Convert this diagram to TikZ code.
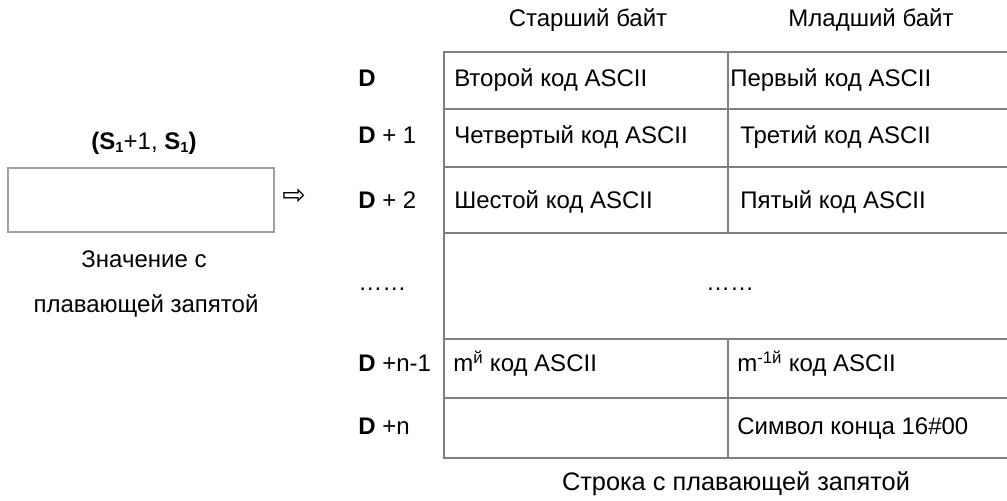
\documentclass[tikz,border=0pt]{standalone}
\usepackage{fontspec}
\setmainfont{Liberation Sans}
\newfontfamily\symfont{DejaVu Sans}
\usetikzlibrary{positioning}
\definecolor{gridgray}{HTML}{808080}
\definecolor{boxgray}{HTML}{A0A0A0}
\newcommand{\lowidx}[1]{\raisebox{-0.25ex}{\fontsize{11}{12}\selectfont #1}}

\begin{document}
\begin{tikzpicture}[x=0.75pt, y=-0.75pt,
    font=\fontsize{18}{21}\selectfont,
    txt/.style={inner sep=0pt, text height=0.72em, text depth=0pt},
    cell/.style={txt, anchor=west},
    grid/.style={draw=gridgray, line width=1.4pt},
    valbox/.style={draw=boxgray, line width=1.4pt, minimum width=199pt,
      minimum height=48pt, inner sep=0pt}
  ]
  \useasboundingbox (0,0) rectangle (1007,500);

  % source value
  \node[txt] (src) at (144,145) {\textbf{(S\lowidx{1}}+1, \textbf{S\lowidx{1})}};
  \node[valbox] (val) at (141,200) {};
  \node[inner sep=0pt, font=\symfont\fontsize{21}{21}\selectfont] (arw) at (294,197) {⇨};
  \node[txt] (note1) at (144,263) {Значение с};
  \node[txt] (note2) at (146,308) {плавающей запятой};

  % column heads
  \node[txt] (hi) at (588,22) {Старший байт};
  \node[txt] (lo) at (871,22) {Младший байт};

  % table
  \draw[grid] (1007,52) -- (444,52) -- (444,458) -- (1007,458);
  \foreach \y in {109,167,233,339,398}
    \draw[grid] (444,\y) -- (1007,\y);
  \draw[grid] (728,52) -- (728,233) (728,339) -- (728,458);

  % addresses
  \node[cell] (d0) at (358,82)  {\textbf{D}};
  \node[cell] (d1) at (358,139) {\textbf{D} + 1};
  \node[cell] (d2) at (358,204) {\textbf{D} + 2};
  \node[cell] (dx) at (358,286) {……};
  \node[cell] (dm) at (358,367) {\textbf{D} +n-1};
  \node[cell] (dn) at (358,430) {\textbf{D} +n};

  % bytes
  \node[cell] (h0) at (454,82)  {Второй код ASCII};
  \node[cell] (l0) at (730,82)  {Первый код ASCII};
  \node[cell] (h1) at (454,139) {Четвертый код ASCII};
  \node[cell] (l1) at (740,139) {Третий код ASCII};
  \node[cell] (h2) at (454,204) {Шестой код ASCII};
  \node[cell] (l2) at (740,204) {Пятый код ASCII};
  \node[txt]  (lx) at (730,286) {……};
  \node[cell] (hm) at (453,367) {m\textsuperscript{й} код ASCII};
  \node[cell] (lm) at (737,367) {m\textsuperscript{-1й} код ASCII};
  \node[cell] (ln) at (737,430) {Символ конца 16\#00};

  \node[txt, font=\fontsize{19}{22}\selectfont] (res) at (736,486) {Строка с плавающей запятой};
\end{tikzpicture}
\end{document}
